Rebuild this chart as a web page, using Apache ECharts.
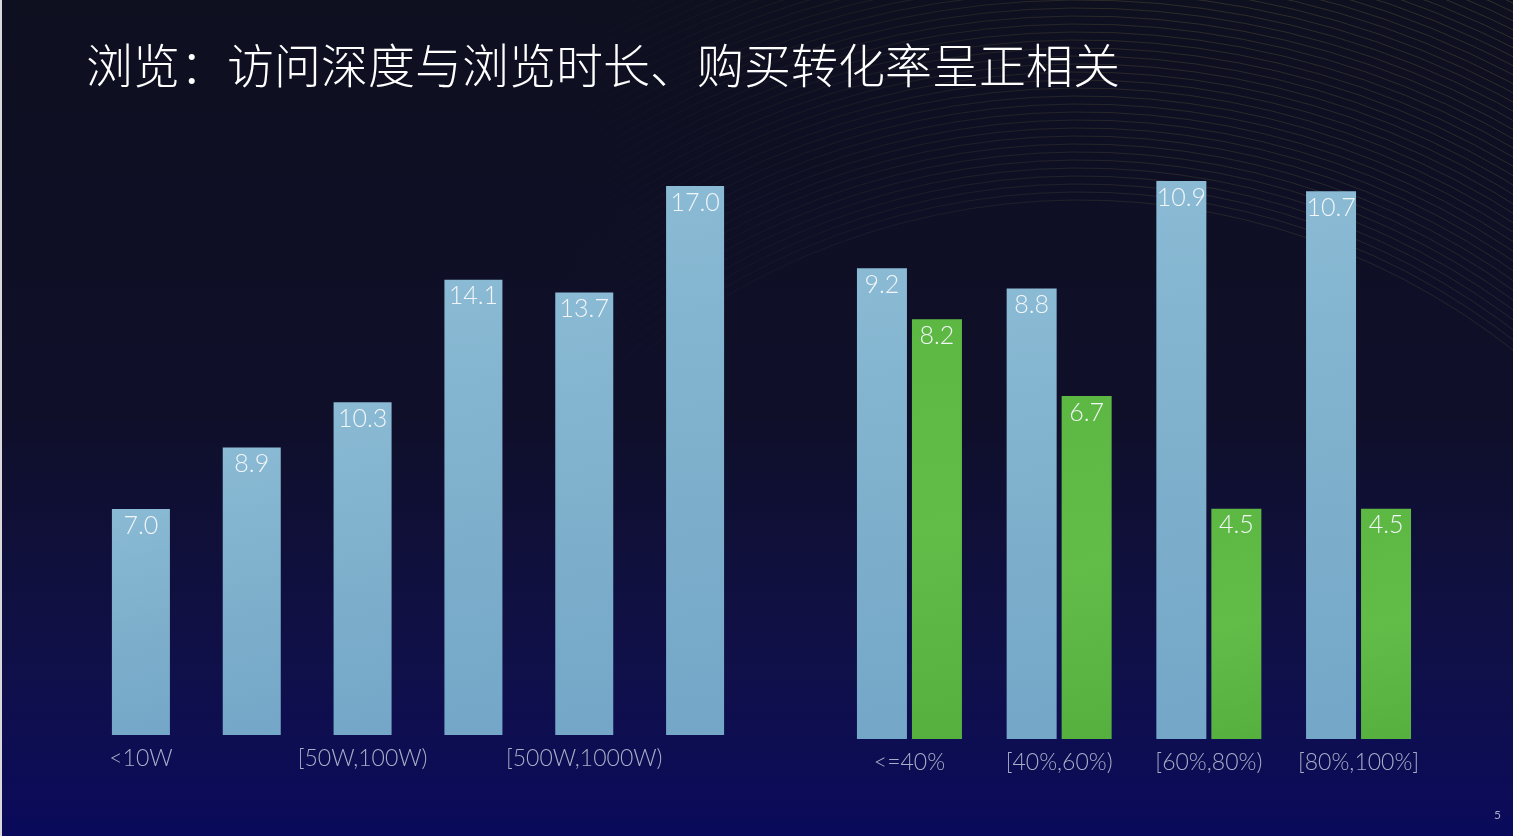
<!DOCTYPE html>
<html>
<head>
    <meta charset="utf-8">
    <title>浏览：访问深度与浏览时长、购买转化率呈正相关</title>
    <script src="https://cdn.jsdelivr.net/npm/echarts@6.0.0/dist/echarts.min.js"></script>
    <style>
        html, body { margin: 0; padding: 0; background: #0e0f1f; }
        #chart { width: 1513px; height: 836px; }
    </style>
</head>
<body>
<div id="chart"></div>
<script>
    // 左图：访问深度分组
    var depthCats = ['<10W', '[10W,50W)', '[50W,100W)', '[100W,500W)', '[500W,1000W)', '>=1000W'];
    var depthValues = [7.0, 8.9, 10.3, 14.1, 13.7, 17.0];

    // 右图：访问深度占比分组，浏览时长 / 购买转化率
    var rateCats = ['<=40%', '[40%,60%)', '[60%,80%)', '[80%,100%]'];
    var durationValues = [9.2, 8.8, 10.9, 10.7];
    var conversionValues = [8.2, 6.7, 4.5, 4.5];

    var chart = echarts.init(document.getElementById('chart'));

    // 背景里的细弧线（右上角），左侧渐隐
    var arcStroke = new echarts.graphic.LinearGradient(560, 0, 1150, 0, [
        { offset: 0, color: 'rgba(140,135,70,0)' },
        { offset: 1, color: 'rgba(140,135,70,0.32)' }
    ], true);
    var arcs = [];
    for (var i = 0; i < 56; i++) {
        arcs.push({
            type: 'arc',
            silent: true,
            z: -10,
            shape: { cx: 1080, cy: 900, r: 700 + i * 8, startAngle: -Math.PI * 0.8, endAngle: -Math.PI * 0.1 },
            style: { stroke: arcStroke, lineWidth: 1, fill: null, opacity: 0.55 + i * 0.008 }
        });
    }

    var valueLabel = {
        show: true,
        position: 'insideTop',
        distance: 4,
        color: '#f2f6f9',
        fontSize: 25,
        fontFamily: 'Lato',
        fontWeight: 300,
        formatter: function (p) { return p.value.toFixed(1); }
    };

    var catLabel = {
        color: '#a9adc6',
        fontSize: 23,
        fontFamily: 'Lato',
        fontWeight: 300,
        margin: 12
    };

    var blueFill = new echarts.graphic.LinearGradient(0, 0, 1, 1, [
        { offset: 0, color: '#8abad4' },
        { offset: 0.5, color: '#7eb0cc' },
        { offset: 1, color: '#74a6c8' }
    ]);
    var greenFill = new echarts.graphic.LinearGradient(0, 0, 1, 1, [
        { offset: 0, color: '#5cb843' },
        { offset: 0.5, color: '#62bc48' },
        { offset: 1, color: '#55b03e' }
    ]);

    var option = {
        backgroundColor: new echarts.graphic.LinearGradient(0, 0, 0, 1, [
            { offset: 0, color: '#0e0f1f' },
            { offset: 0.5, color: '#0f0f2a' },
            { offset: 0.8, color: '#10104a' },
            { offset: 1, color: '#0a0a5c' }
        ]),
        animation: false,
        title: {
            text: '浏览：访问深度与浏览时长、购买转化率呈正相关',
            left: 81,
            top: 37,
            textStyle: {
                color: '#ffffff',
                fontSize: 47,
                fontWeight: 300,
                fontFamily: 'Noto Sans CJK SC'
            }
        },
        graphic: arcs.concat([
            {
                type: 'rect',
                silent: true,
                shape: { x: 0, y: 0, width: 2, height: 836 },
                style: { fill: '#d9d9dc' }
            },
            {
                type: 'text',
                silent: true,
                left: 1494,
                top: 809,
                style: { text: '5', fill: '#a8acc8', fontSize: 12, fontFamily: 'Lato' }
            }
        ]),
        grid: [
            { left: 85.5, width: 665, top: 186, bottom: 101 },
            { left: 834.6, width: 598.8, top: 176, bottom: 97 }
        ],
        xAxis: [
            {
                type: 'category',
                gridIndex: 0,
                data: depthCats,
                axisLine: { show: false },
                axisTick: { show: false },
                axisLabel: Object.assign({ interval: 1 }, catLabel)
            },
            {
                type: 'category',
                gridIndex: 1,
                data: rateCats,
                axisLine: { show: false },
                axisTick: { show: false },
                axisLabel: Object.assign({ interval: 0 }, catLabel)
            }
        ],
        yAxis: [
            { type: 'value', gridIndex: 0, min: 0, max: 17, show: false },
            { type: 'value', gridIndex: 1, min: 0, max: 11, show: false }
        ],
        series: [
            {
                name: '访问深度',
                type: 'bar',
                xAxisIndex: 0,
                yAxisIndex: 0,
                barWidth: 58,
                data: depthValues,
                itemStyle: { color: blueFill },
                label: valueLabel
            },
            {
                name: '浏览时长',
                type: 'bar',
                xAxisIndex: 1,
                yAxisIndex: 1,
                barWidth: 50,
                barGap: '10%',
                data: durationValues,
                itemStyle: { color: blueFill },
                label: valueLabel
            },
            {
                name: '购买转化率',
                type: 'bar',
                xAxisIndex: 1,
                yAxisIndex: 1,
                barWidth: 50,
                barGap: '10%',
                data: conversionValues,
                itemStyle: { color: greenFill },
                label: valueLabel
            }
        ]
    };

    chart.setOption(option);
</script>
</body>
</html>
